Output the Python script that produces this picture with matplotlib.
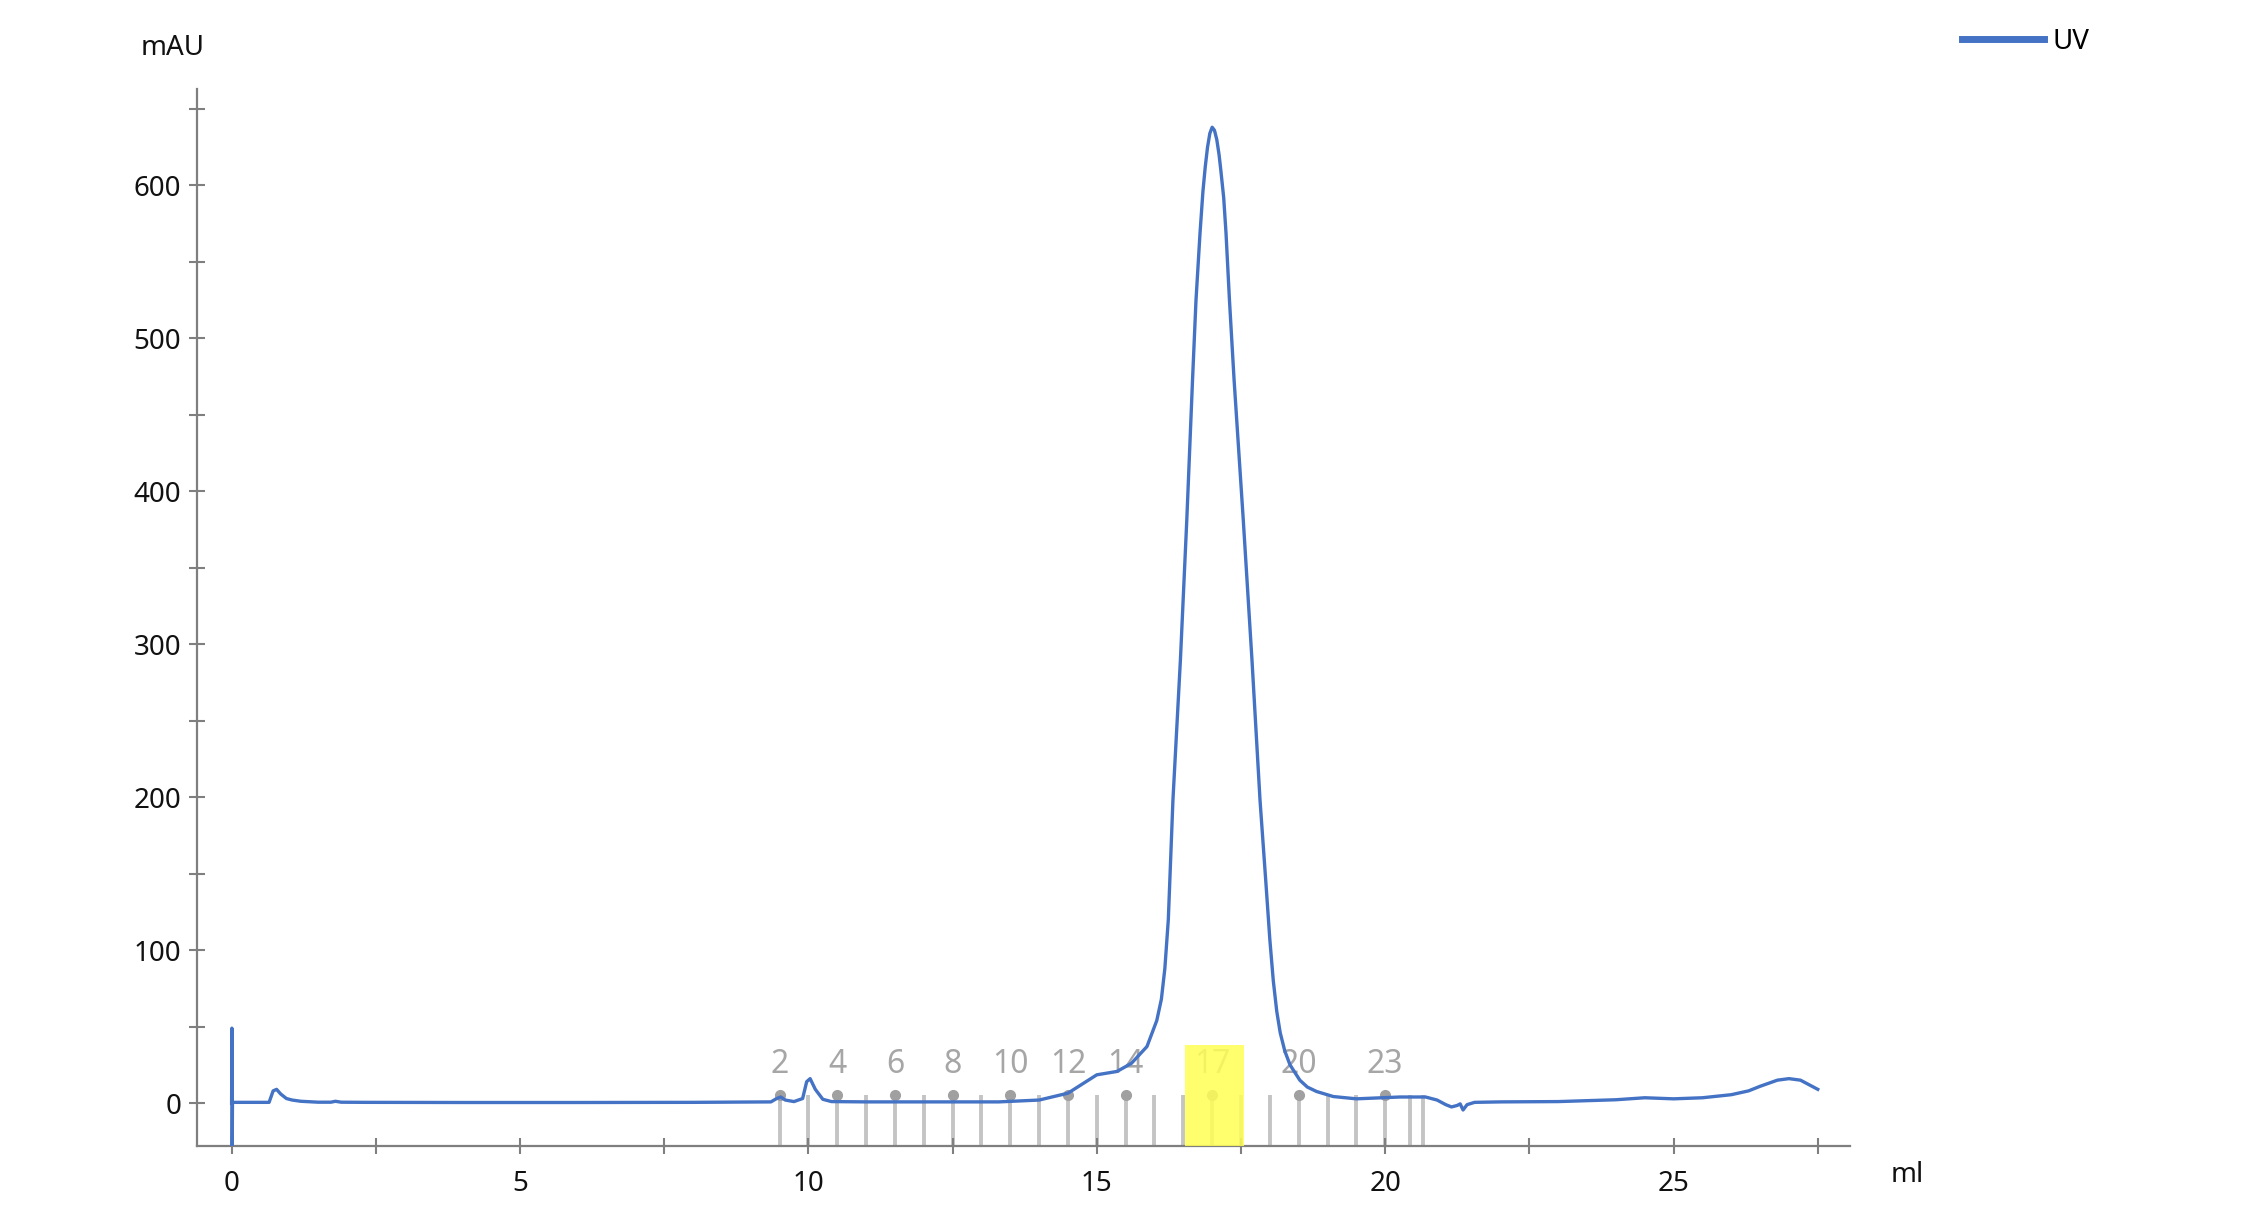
import matplotlib
matplotlib.use('agg')
import matplotlib.pyplot as plt
from matplotlib.lines import Line2D
from matplotlib.patches import Rectangle
from matplotlib.ticker import MultipleLocator
import numpy as np

plt.rcParams['font.family'] = ['Noto Sans', 'DejaVu Sans']

# UV trace (ml, mAU)
volume = [0.0, 0.005, 0.01, 0.015, 0.65, 0.72, 0.78, 0.85, 0.95, 1.05, 1.2, 1.5,
          1.72, 1.8, 1.9, 2.3, 4.0, 6.0, 8.0, 9.35, 9.45, 9.52, 9.6, 9.75,
          9.9, 9.97, 10.03, 10.12, 10.25, 10.4, 11.0, 12.0, 13.3, 14.0, 14.5,
          15.0, 15.35, 15.6, 15.87, 16.04, 16.12, 16.18, 16.24, 16.32, 16.45, 16.56,
          16.66, 16.72, 16.79, 16.84, 16.88, 16.92, 16.96, 17.0, 17.04, 17.08,
          17.12, 17.15, 17.2, 17.24, 17.30, 17.38, 17.54, 17.69, 17.83, 17.93,
          18.0, 18.06, 18.12, 18.18, 18.26, 18.35, 18.52, 18.65, 18.81,
          19.1, 19.5, 20.26, 20.7, 20.9, 21.05, 21.15, 21.25, 21.3, 21.35,
          21.42, 21.55, 22.0, 23.0, 24.0, 24.5, 25.0, 25.5, 26.0, 26.3, 26.5, 26.8,
          27.0, 27.2, 27.5]
uv = [0.0, 49.0, -30.0, 0.5, 0.5, 8.0, 9.0, 6.0, 3.0, 2.0, 1.2, 0.6,
      0.6, 1.2, 0.6, 0.5, 0.4, 0.4, 0.5, 0.8, 3.0, 4.0, 2.0, 1.0,
      3.0, 14.0, 16.0, 9.0, 2.5, 1.0, 0.8, 0.8, 0.8, 2.0, 6.5,
      18.5, 20.7, 26.0, 37.0, 54.0, 68.0, 88.0, 120.0, 198.0, 290.0, 381.0,
      473.0, 525.0, 569.0, 596.0, 612.0, 625.0, 634.0, 638.0, 636.0, 630.0,
      620.0, 610.0, 592.0, 569.0, 525.0, 473.0, 381.0, 290.0, 198.0, 145.0,
      107.0, 80.0, 60.0, 46.0, 34.0, 25.0, 15.0, 10.5, 7.6,
      4.3, 2.8, 4.0, 4.0, 2.0, -1.0, -2.5, -1.5, -0.5, -4.5,
      -1.0, 0.5, 0.8, 1.0, 2.2, 3.5, 2.8, 3.5, 5.5, 8.0, 11.0, 15.0,
      16.0, 15.0, 9.0]

# fraction marks
frac_pos = [9.5, 10.0, 10.5, 11.0, 11.5, 12.0, 12.5, 13.0, 13.5, 14.0, 14.5,
            15.0, 15.5, 16.0, 16.5, 17.0, 17.5, 18.0, 18.5, 19.0, 19.5, 20.0,
            20.43, 20.65]
frac_num = list(range(2, 26))
frac_labeled = [2, 4, 6, 8, 10, 12, 14, 17, 20, 23]
frac_selected = (16.53, 17.55)

blue = '#4472c4'
axis_gray = '#7f7f7f'

fig = plt.figure(figsize=(22.54, 12.26), dpi=100)
ax = fig.add_axes([0.0874, 0.0653, 0.7334, 0.8621])
ymin, ymax = -28, 663
ax.set_xlim(-0.6, 28.06)
ax.set_ylim(ymin, ymax)

# fraction lines, dots and numbers
for pos, num in zip(frac_pos, frac_num):
    ax.vlines(pos, ymin, 5, color='#c4c4c4', lw=2.8, zorder=1)
    if num in frac_labeled:
        ax.plot(pos, 5.5, 'o', color='#a0a0a0', ms=7, zorder=2)
        ax.text(pos, 25, str(num), color='#a6a6a6', fontsize=23,
                ha='center', va='center', zorder=2)

ax.add_patch(Rectangle((frac_selected[0], ymin), frac_selected[1] - frac_selected[0],
                       38 - ymin, facecolor='#ffff55', edgecolor='none',
                       alpha=0.85, zorder=3))

ax.plot(volume, uv, color=blue, lw=2.4, zorder=4, solid_joinstyle='round')

for side in ['top', 'right']:
    ax.spines[side].set_visible(False)
for side in ['left', 'bottom']:
    ax.spines[side].set_color(axis_gray)
    ax.spines[side].set_linewidth(1.6)

ax.xaxis.set_major_locator(MultipleLocator(5))
ax.xaxis.set_minor_locator(MultipleLocator(2.5))
ax.yaxis.set_major_locator(MultipleLocator(100))
ax.yaxis.set_minor_locator(MultipleLocator(50))
ax.tick_params(which='both', direction='inout', length=11, width=1.5,
               color=axis_gray, labelsize=20, labelcolor='#111111')
ax.tick_params(axis='x', pad=12)
ax.tick_params(axis='y', pad=6)

fig.text(173 / 2254, 1 - 48 / 1226, 'mAU', fontsize=20, ha='center', va='center',
         color='#111111')
fig.text(1907 / 2254, 1 - 1175 / 1226, 'ml', fontsize=20, ha='center', va='center',
         color='#111111')

handle = Line2D([], [], color=blue, lw=5)
fig.legend([handle], ['UV'], loc='center left', frameon=False,
           bbox_to_anchor=(1962 / 2254, 1 - 42 / 1226), borderpad=0,
           borderaxespad=0, handlelength=2.95, handletextpad=0.3, fontsize=20)

fig.savefig('out.png', dpi=100)
